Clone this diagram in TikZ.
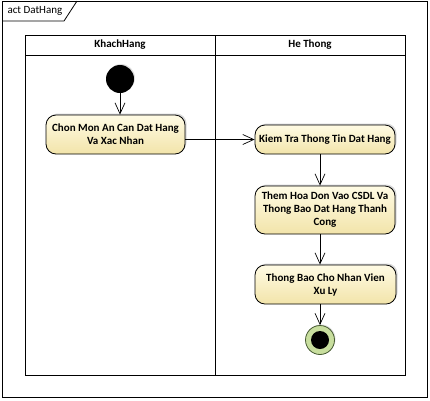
\documentclass[tikz,border=0pt]{standalone}
\usepackage{fontspec}
\setmainfont{Carlito}
\usetikzlibrary{arrows.meta,shadows}
\definecolor{actTop}{RGB}{255,251,228}
\definecolor{actBot}{RGB}{242,228,170}
\definecolor{finFill}{RGB}{200,222,158}
\definecolor{finLine}{RGB}{70,90,50}
\tikzset{
  action/.style={draw=black, line width=0.8pt, rounded corners=10pt,
    top color=actTop, bottom color=actBot, align=center,
    font=\fontsize{11}{13}\selectfont\bfseries, inner sep=2pt,
    drop shadow={shadow xshift=1.5pt, shadow yshift=1.5pt, fill=black!25, opacity=0.6}},
  flow/.style={draw=black, line width=0.7pt, -{Straight Barb[length=11pt,width=10pt]}},
  lane/.style={draw=black, line width=0.7pt},
  lanetitle/.style={font=\fontsize{11}{13}\selectfont\bfseries},
}
\begin{document}
\begin{tikzpicture}[x=1pt,y=-1pt]
\useasboundingbox (0,0) rectangle (430,400);
% outer frame
\draw[line width=0.8pt] (2,1) rectangle (427,397);
\draw[line width=0.8pt] (2,21) -- (64,21) -- (77,1);
\node[anchor=west, font=\fontsize{11}{12}\selectfont] (title) at (4,11) {act DatHang};
% lanes
\draw[lane] (25,35) rectangle (405,375);
\draw[lane] (25,55) -- (405,55);
\draw[lane] (215,35) -- (215,375);
\node[lanetitle] (l1) at (120,45) {KhachHang};
\node[lanetitle] (l2) at (310,45) {He Thong};
% nodes
\node[circle, fill=black, minimum size=28pt, inner sep=0pt,
  drop shadow={shadow xshift=1pt, shadow yshift=1pt, fill=black!25, opacity=0.5}] (start) at (120,79) {};
\node[action, minimum width=139pt, minimum height=39pt] (chon) at (115.5,134.5) {Chon Mon An Can Dat Hang\\Va Xac Nhan};
\node[action, minimum width=140pt, minimum height=29pt] (kiem) at (325,139.5) {Kiem Tra Thong Tin Dat Hang};
\node[action, minimum width=140pt, minimum height=48pt] (them) at (325,210) {Them Hoa Don Vao CSDL Va\\Thong Bao Dat Hang Thanh\\Cong};
\node[action, minimum width=141pt, minimum height=39pt] (tb) at (325.5,284.5) {Thong Bao Cho Nhan Vien\\Xu Ly};
\node[circle, draw=finLine, line width=0.8pt, fill=finFill, minimum size=29pt, inner sep=0pt,
  drop shadow={shadow xshift=1pt, shadow yshift=1pt, fill=black!25, opacity=0.5}] (fin) at (320,340) {};
\node[circle, fill=black, minimum size=18pt, inner sep=0pt] (finin) at (fin.center) {};
% flows
\draw[flow] (start) -- (start |- chon.north);
\draw[flow] (chon.east |- kiem.west) -- (kiem.west);
\draw[flow] (kiem.south -| fin.center) -- (them.north -| fin.center);
\draw[flow] (them.south -| fin.center) -- (tb.north -| fin.center);
\draw[flow] (tb.south -| fin.center) -- (fin.north);
\end{tikzpicture}
\end{document}
